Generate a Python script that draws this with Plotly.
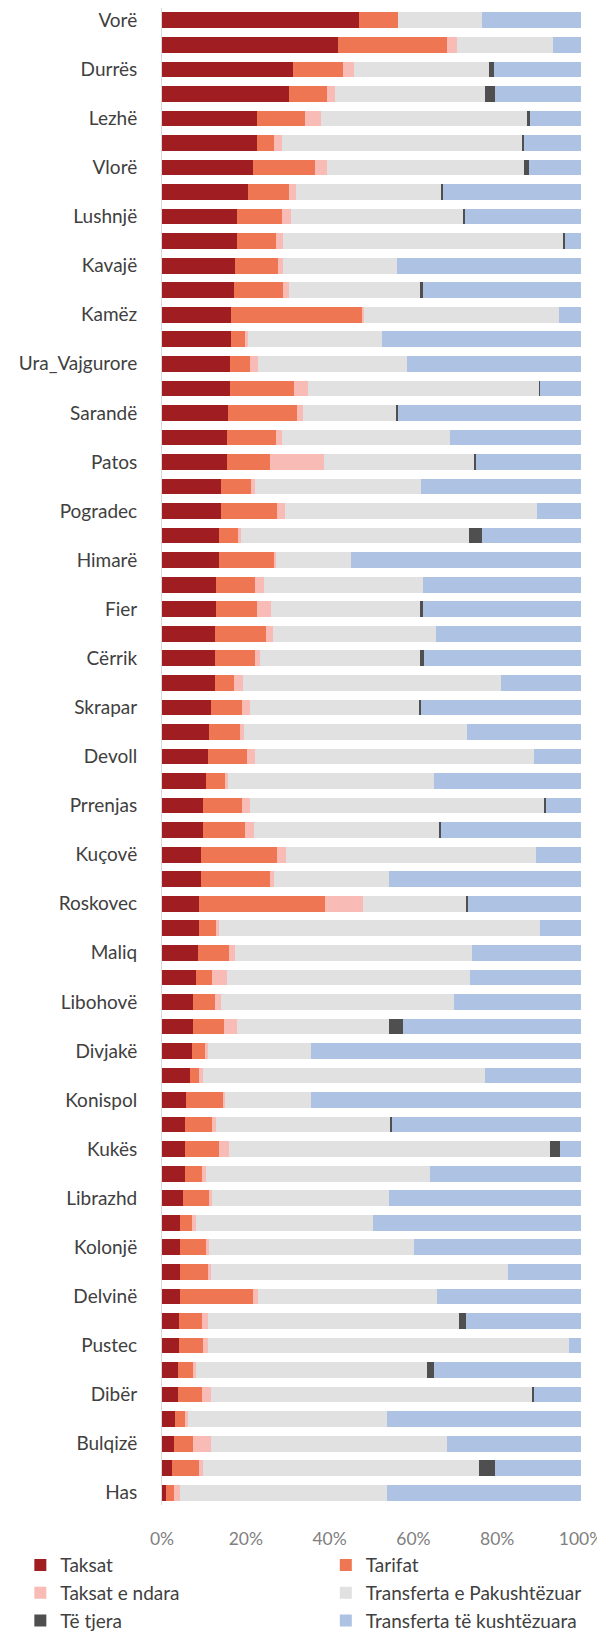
import plotly.graph_objects as go

# Municipalities, top to bottom (only every other label is shown in the chart)
municipalities = [
    "Vorë", "Tiranë", "Durrës", "Shkodër", "Lezhë", "Elbasan", "Vlorë", "Korçë",
    "Lushnjë", "Berat", "Kavajë", "Gjirokastër", "Kamëz", "Krujë", "Ura_Vajgurore", "Shijak",
    "Sarandë", "Kurbin", "Patos", "Rrogozhinë", "Pogradec", "Peqin", "Himarë", "Belsh",
    "Fier", "Mat", "Cërrik", "Tepelenë", "Skrapar", "Përmet", "Devoll", "Mallakastër",
    "Prrenjas", "Selenicë", "Kuçovë", "Finiq", "Roskovec", "Dropull", "Maliq", "Poliçan",
    "Libohovë", "Gramsh", "Divjakë", "Memaliaj", "Konispol", "Këlcyrë", "Kukës", "Mirditë",
    "Librazhd", "Klos", "Kolonjë", "Vau i Dejës", "Delvinë", "Malësi e Madhe", "Pustec", "Pukë",
    "Dibër", "Tropojë", "Bulqizë", "Fushë-Arrëz", "Has",
]
shown_labels = municipalities[0::2]

x_tick_values = [0, 20, 40, 60, 80, 100]
x_tick_labels = ["0%", "20%", "40%", "60%", "80%", "100%"]

# Shares (%) of each revenue source
taksat = [47.0, 42.1, 31.3, 30.2, 22.7, 22.7, 21.7, 20.6, 17.8, 17.8, 17.5, 17.1, 16.5, 16.5, 16.2, 16.2,
          15.8, 15.4, 15.4, 14.0, 14.0, 13.7, 13.7, 13.0, 13.0, 12.7, 12.7, 12.7, 11.6, 11.3, 10.9, 10.6,
          9.9, 9.9, 9.2, 9.2, 8.8, 8.8, 8.5, 8.2, 7.5, 7.5, 7.1, 6.8, 5.7, 5.4, 5.4, 5.4,
          5.1, 4.4, 4.4, 4.4, 4.4, 4.1, 4.1, 3.7, 3.7, 3.2, 2.9, 2.4, 0.9]
tarifat = [9.4, 25.9, 11.8, 9.1, 11.4, 4.1, 14.8, 9.6, 10.8, 9.3, 10.3, 11.8, 31.4, 3.4, 4.7, 15.2,
           16.4, 11.7, 10.4, 7.3, 13.5, 4.5, 13.1, 9.3, 9.7, 12.1, 9.6, 4.4, 7.6, 7.2, 9.3, 4.4,
           9.3, 10.0, 18.3, 16.6, 30.1, 4.2, 7.6, 3.7, 5.2, 7.2, 3.1, 2.0, 9.0, 6.5, 8.3, 4.2,
           6.2, 2.7, 6.2, 6.5, 17.3, 5.5, 5.8, 3.8, 5.9, 2.5, 4.5, 6.4, 2.0]
taksat_ndara = [0.0, 2.4, 2.7, 2.1, 3.8, 1.8, 2.8, 1.8, 2.1, 1.8, 1.1, 1.4, 0.3, 0.6, 2.1, 3.4,
                1.5, 1.5, 12.8, 1.0, 1.9, 0.7, 0.3, 2.1, 3.4, 1.7, 1.0, 2.2, 1.7, 1.1, 2.1, 0.8,
                1.7, 2.1, 2.0, 1.0, 9.0, 0.7, 1.4, 3.5, 1.3, 3.1, 0.7, 1.1, 0.3, 1.1, 2.4, 1.0,
                0.6, 1.0, 0.7, 0.7, 1.3, 1.3, 1.0, 0.6, 2.0, 0.4, 4.4, 1.0, 1.3]
pakushtezuar = [19.9, 23.0, 32.3, 35.7, 49.2, 57.5, 47.1, 34.6, 41.3, 66.8, 27.1, 31.2, 46.5, 32.0, 35.4, 55.2,
                22.3, 40.2, 36.1, 39.6, 60.2, 54.3, 18.0, 38.0, 35.7, 38.8, 38.2, 61.6, 40.6, 53.3, 66.6, 49.1,
                70.3, 44.2, 59.7, 27.4, 24.7, 76.5, 56.5, 58.2, 55.8, 36.4, 24.6, 67.2, 20.5, 41.5, 76.6, 53.3,
                42.3, 42.3, 48.8, 71.0, 42.6, 60.0, 86.2, 55.1, 76.9, 47.7, 56.2, 65.8, 49.6]
te_tjera = [0.0, 0.0, 1.1, 2.4, 0.7, 0.4, 1.2, 0.4, 0.3, 0.5, 0.0, 0.7, 0.0, 0.0, 0.0, 0.3,
            0.3, 0.0, 0.3, 0.0, 0.0, 3.2, 0.0, 0.0, 0.4, 0.0, 1.0, 0.0, 0.4, 0.0, 0.0, 0.0,
            0.4, 0.4, 0.0, 0.0, 0.4, 0.0, 0.0, 0.0, 0.0, 3.2, 0.0, 0.0, 0.0, 0.4, 2.4, 0.0,
            0.0, 0.0, 0.0, 0.0, 0.0, 1.7, 0.0, 1.8, 0.4, 0.0, 0.0, 3.8, 0.0]
kushtezuara = [23.7, 6.6, 20.8, 20.5, 12.2, 13.5, 12.4, 33.0, 27.7, 3.8, 44.0, 37.8, 5.3, 47.5, 41.6, 9.7,
               43.7, 31.2, 25.0, 38.1, 10.4, 23.6, 54.9, 37.6, 37.8, 34.7, 37.5, 19.1, 38.1, 27.1, 11.1, 35.1,
               8.4, 33.4, 10.8, 45.8, 27.0, 9.8, 26.0, 26.4, 30.2, 42.6, 64.5, 22.9, 64.5, 45.1, 4.9, 36.1,
               45.8, 49.6, 39.9, 17.4, 34.4, 27.4, 2.9, 35.0, 11.1, 46.2, 32.0, 20.6, 46.2]

series = [
    ("Taksat", taksat, "#A01E21", "legend"),
    ("Tarifat", tarifat, "#EE7653", "legend2"),
    ("Taksat e ndara", taksat_ndara, "#F8BBB5", "legend"),
    ("Transferta e Pakushtëzuar", pakushtezuar, "#E1E1E1", "legend2"),
    ("Të tjera", te_tjera, "#4F4F4F", "legend"),
    ("Transferta të kushtëzuara", kushtezuara, "#AEC2E3", "legend2"),
]

FONT = "Lato"
fig = go.Figure()
for name, vals, color, leg in series:
    fig.add_trace(go.Bar(
        y=municipalities, x=vals, name=name, orientation="h",
        marker=dict(color=color, line=dict(width=0)),
        legend=leg, legendgroup=name,
    ))

# note: the HTML page body adds an 8px offset, so the figure is positioned accordingly
fig.update_layout(
    width=605, height=1635,
    barmode="stack", bargap=0.36,
    margin=dict(l=154, r=32, t=0, b=138, autoexpand=False),
    paper_bgcolor="white", plot_bgcolor="white",
    font=dict(family=FONT, size=19, color="#404040"),
    showlegend=True,
    legend=dict(xref="container", yref="container", x=0.0204, y=0.0592,
                xanchor="left", yanchor="top", orientation="v",
                font=dict(size=19, color="#404040"), tracegroupgap=0,
                bgcolor="rgba(0,0,0,0)"),
    legend2=dict(xref="container", yref="container", x=0.5253, y=0.0592,
                 xanchor="left", yanchor="top", orientation="v",
                 font=dict(size=19, color="#404040"), tracegroupgap=0,
                 bgcolor="rgba(0,0,0,0)"),
)
fig.update_xaxes(range=[0, 100], tickmode="array", tickvals=x_tick_values, ticktext=x_tick_labels,
                 showgrid=False, zeroline=False, showline=False, automargin=False,
                 tickangle=0,
                 tickfont=dict(size=17.5, color="#808080"), ticklabelstandoff=21)
fig.update_yaxes(categoryorder="array", categoryarray=municipalities, autorange="reversed",
                 tickmode="array", tickvals=shown_labels, ticktext=shown_labels,
                 showgrid=False, showline=True, linecolor="#D9D9D9", linewidth=1,
                 automargin=False,
                 ticks="", tickfont=dict(size=19, color="#404040"), ticklabelstandoff=20)

fig.write_html("out.html")
